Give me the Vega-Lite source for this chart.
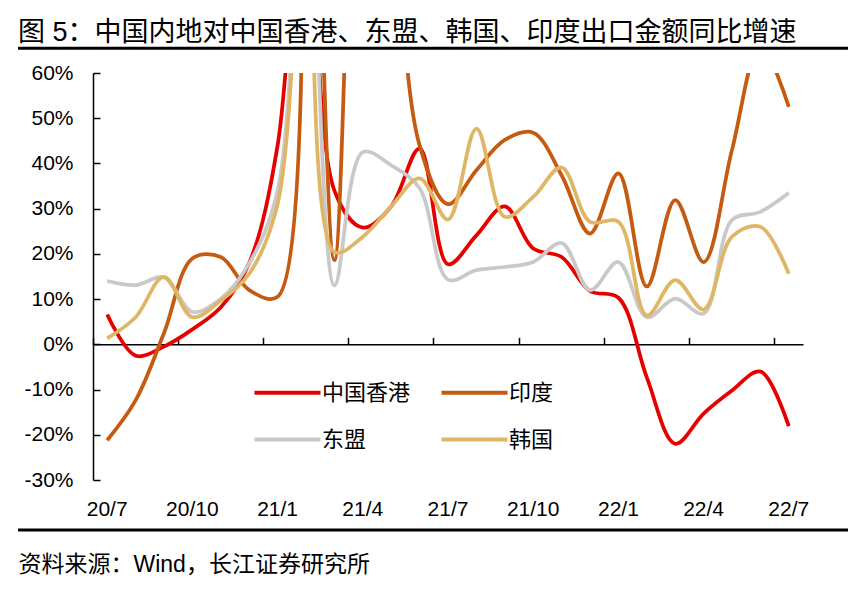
{
  "$schema": "https://vega.github.io/schema/vega-lite/v6.json",
  "width": 710,
  "height": 407,
  "autosize": {"type": "none"},
  "padding": {"left": 93, "top": 73, "right": 61, "bottom": 115},
  "background": "white",
  "config": {"font": "Liberation Sans, Noto Sans CJK SC", "view": {"stroke": null}},
  "title": {"text": "图 5：中国内地对中国香港、东盟、韩国、印度出口金额同比增速", "anchor": "start", "frame": "group", "dx": -75, "fontSize": 27, "fontWeight": "normal", "color": "black", "offset": -21.5, "baseline": "alphabetic"},
  "resolve": {"scale": {"x": "independent"}, "axis": {"x": "independent"}},
  "layer": [
    {
      "data": {"values": [
        {"m": "20/7", "中国香港": 6.6, "印度": -21.2, "东盟": 14.0, "韩国": 1.3},
        {"m": "20/8", "中国香港": -2.5, "印度": -12.4, "东盟": 13.1, "韩国": 6.0},
        {"m": "20/9", "中国香港": -0.5, "印度": 2.5, "东盟": 14.8, "韩国": 14.9},
        {"m": "20/10", "中国香港": 3.3, "印度": 19.0, "东盟": 7.2, "韩国": 6.0},
        {"m": "20/11", "中国香港": 8.2, "印度": 19.3, "东盟": 10.1, "韩国": 9.7},
        {"m": "20/12", "中国香港": 18.0, "印度": 12.0, "东盟": 17.9, "韩国": 15.6},
        {"m": "21/1", "中国香港": 44.0, "印度": 10.5, "东盟": 34.0, "韩国": 31.0},
        {"m": "21/2", "中国香港": 110, "印度": 160, "东盟": 110, "韩国": 100},
        {"m": "21/3", "中国香港": 34.0, "印度": 18.6, "东盟": 13.0, "韩国": 20.4},
        {"m": "21/4", "中国香港": 25.8, "印度": 135, "东盟": 42.5, "韩国": 23.8},
        {"m": "21/5", "中国香港": 30.5, "印度": 100, "东盟": 39.6, "韩国": 30.5},
        {"m": "21/6", "中国香港": 43.3, "印度": 44.0, "东盟": 34.5, "韩国": 36.7},
        {"m": "21/7", "中国香港": 17.7, "印度": 31.0, "东盟": 14.3, "韩国": 27.6},
        {"m": "21/8", "中国香港": 24.1, "印度": 38.5, "东盟": 16.4, "韩国": 47.7},
        {"m": "21/9", "中国香港": 30.5, "印度": 45.2, "东盟": 17.1, "韩国": 28.2},
        {"m": "21/10", "中国香港": 21.2, "印度": 46.8, "东盟": 18.2, "韩国": 32.6},
        {"m": "21/11", "中国香港": 19.3, "印度": 37.4, "东盟": 22.4, "韩国": 39.1},
        {"m": "21/12", "中国香港": 11.8, "印度": 24.5, "东盟": 12.0, "韩国": 27.1},
        {"m": "22/1", "中国香港": 10.3, "印度": 37.8, "东盟": 18.2, "韩国": 27.1},
        {"m": "22/2", "中国香港": -7.3, "印度": 12.8, "东盟": 6.0, "韩国": 6.4},
        {"m": "22/3", "中国香港": -22.0, "印度": 31.9, "东盟": 10.1, "韩国": 14.2},
        {"m": "22/4", "中国香港": -15.3, "印度": 18.2, "东盟": 6.8, "韩国": 7.7},
        {"m": "22/5", "中国香港": -10.2, "印度": 43.0, "东盟": 27.5, "韩国": 23.8},
        {"m": "22/6", "中国香港": -6.0, "印度": 66.0, "东盟": 29.3, "韩国": 26.0},
        {"m": "22/7", "中国香港": -18.1, "印度": 52.5, "东盟": 33.5, "韩国": 15.6}
      ]},
      "transform": [{"fold": ["中国香港", "印度", "东盟", "韩国"], "as": ["s", "v"]}],
      "mark": {"type": "line", "interpolate": "catmull-rom", "strokeWidth": 3.75, "clip": true},
      "encoding": {
        "x": {
          "field": "m", "type": "ordinal", "bandPosition": 0.5,
          "scale": {"type": "band", "paddingInner": 0, "paddingOuter": 0,
            "domain": ["20/7","20/8","20/9","20/10","20/11","20/12","21/1","21/2","21/3","21/4","21/5","21/6","21/7","21/8","21/9","21/10","21/11","21/12","22/1","22/2","22/3","22/4","22/5","22/6","22/7"]},
          "axis": {
            "orient": "bottom", "offset": -135.67, "bandPosition": 0,
            "values": ["20/7","20/10","21/1","21/4","21/7","21/10","22/1","22/4","22/7"],
            "domainColor": "black", "domainWidth": 1.5, "tickColor": "black", "tickWidth": 1.5, "tickSize": -7,
            "labelPadding": 161, "labelFontSize": 21, "labelColor": "black", "labelAngle": 0, "labelOverlap": false, "grid": false,
            "title": "资料来源：Wind，长江证券研究所", "titleX": -75, "titleY": 227, "titleAlign": "left", "titleAnchor": "start", "titleBaseline": "alphabetic",
            "titleFontSize": 23, "titleFontWeight": "normal", "titleColor": "black"
          }
        },
        "y": {
          "field": "v", "type": "quantitative",
          "scale": {"domain": [-30, 60], "nice": false, "zero": false},
          "axis": {
            "values": [-30, -20, -10, 0, 10, 20, 30, 40, 50, 60], "labelExpr": "datum.value + '%'",
            "domainColor": "black", "domainWidth": 1.5, "tickColor": "black", "tickWidth": 1.5, "tickSize": -7,
            "labelPadding": 27, "labelFontSize": 21, "labelColor": "black", "grid": false, "title": null
          }
        },
        "color": {
          "field": "s", "type": "nominal",
          "scale": {"domain": ["中国香港", "印度", "东盟", "韩国"], "range": ["#E60000", "#C55A11", "#C9C9C9", "#DFB665"]},
          "legend": {
            "orient": "none", "legendX": 176, "legendY": 301, "columns": 2, "direction": "horizontal", "title": null,
            "symbolType": "M-2,0H2", "symbolSize": 1089, "symbolStrokeWidth": 4,
            "labelFontSize": 22, "labelColor": "black", "labelOffset": 16, "columnPadding": 22, "rowPadding": 17, "padding": 0
          }
        }
      }
    },
    {
      "data": {"values": [{}]},
      "mark": {"type": "rule", "strokeWidth": 3, "color": "black"},
      "encoding": {
        "x": {"datum": -0.1056, "type": "quantitative", "scale": {"domain": [0, 1]}, "axis": null},
        "x2": {"datum": 1.0634},
        "y": {"datum": 65.5, "type": "quantitative", "scale": {"domain": [-30, 60], "nice": false, "zero": false}}
      }
    },
    {
      "data": {"values": [{}]},
      "mark": {"type": "rule", "strokeWidth": 3, "color": "black"},
      "encoding": {
        "x": {"datum": -0.1056, "type": "quantitative", "scale": {"domain": [0, 1]}, "axis": null},
        "x2": {"datum": 1.0634},
        "y": {"datum": -41.06, "type": "quantitative", "scale": {"domain": [-30, 60], "nice": false, "zero": false}}
      }
    }
  ]
}
